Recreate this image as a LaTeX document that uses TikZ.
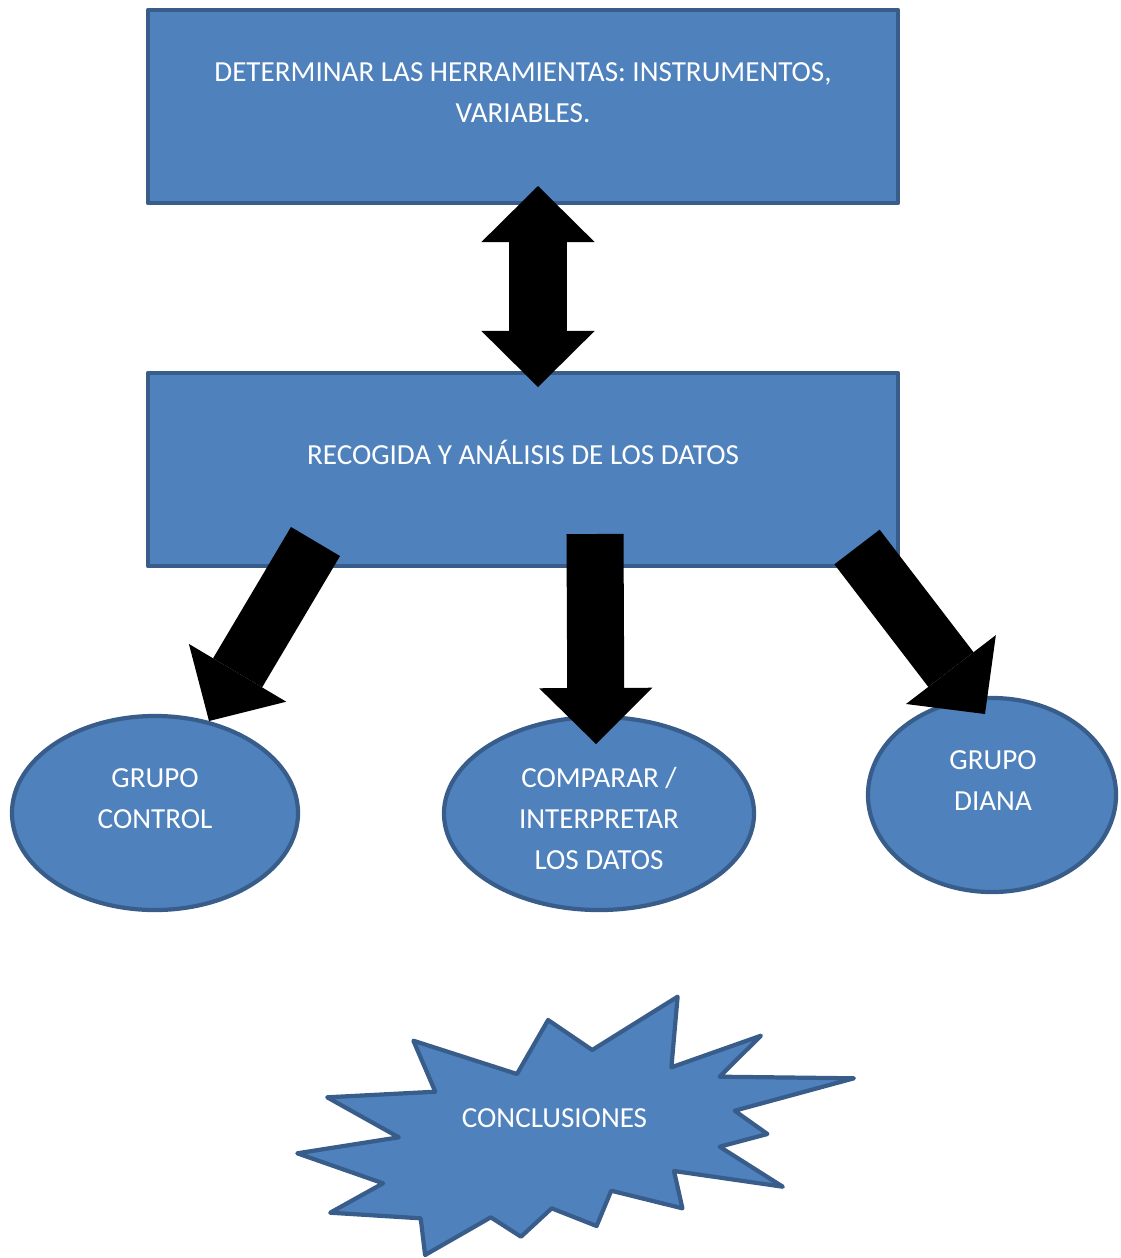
\documentclass[tikz,border=0pt]{standalone}
\usepackage{fontspec}
\setmainfont{Carlito}
\usetikzlibrary{arrows.meta,calc,shapes.geometric}
\definecolor{relleno}{HTML}{4F81BD}
\definecolor{borde}{HTML}{385D8A}
\tikzset{
	caja/.style={draw=borde, line width=3pt, line join=round, fill=relleno, minimum width=18.75cm, minimum height=4.825cm},
	ovalo/.style={ellipse, draw=borde, line width=3pt, fill=relleno},
	texto/.style={text=white, align=center, font=\fontsize{20.7}{29.2}\selectfont},
	flecha/.style={line width=1.425cm, line cap=butt, -{Triangle[length=1.4cm, width=2.83cm, line width=0pt]}},
	doble/.style={line width=1.425cm, line cap=butt, {Triangle[length=1.4cm, width=2.83cm, line width=0pt]}-{Triangle[length=1.4cm, width=2.83cm, line width=0pt]}}
}

\begin{document}
\begin{tikzpicture}[x=0.025cm, y=-0.025cm]
		%%%%% START %%%%%
		\useasboundingbox (0, 0) rectangle (1120, 1258);
		
		\node[caja] (herram) at (523, 106.5) {};
		\node[texto] (herramtxt) at ($(herram.center)+(0, -14)$) {DETERMINAR LAS HERRAMIENTAS: INSTRUMENTOS,\\VARIABLES.};
		
		\node[caja] (datos) at (523, 469.5) {};
		\node[texto] (datostxt) at ($(datos.center)+(0, -17)$) {RECOGIDA Y ANÁLISIS DE LOS DATOS};
		
		\node[ovalo, minimum width=7.15cm, minimum height=4.85cm] (control) at (155, 813) {};
		\node[texto] (controltxt) at (155, 798.5) {GRUPO\\CONTROL};
		
		\node[ovalo, minimum width=7.75cm, minimum height=4.825cm] (comparar) at (599, 813.5) {};
		\node[texto] (comparartxt) at (599, 818.5) {COMPARAR /\\INTERPRETAR\\LOS DATOS};
		
		\node[ovalo, minimum width=6.2cm, minimum height=4.85cm] (diana) at (992, 795) {};
		\node[texto] (dianatxt) at (993, 780.5) {GRUPO\\DIANA};
		
		% estrella
		\draw[draw=borde, line width=3pt, fill=relleno, line join=round]
			(413.4, 1040.7) -- (517.0, 1074) -- (548.1, 1020) -- (592.2, 1050)
			-- (677.6, 996.7) -- (671.4, 1067.3) -- (760.9, 1035.7) -- (719.6, 1076.7)
			-- (853.9, 1078.3) -- (734.6, 1110.7) -- (767.4, 1134) -- (719.6, 1146.7)
			-- (782.8, 1186.7) -- (674.0, 1171) -- (682.4, 1208.3) -- (611.2, 1190.7)
			-- (596.6, 1226) -- (551.7, 1208.3) -- (521.0, 1236.7) -- (490.8, 1217.3)
			-- (425.1, 1255) -- (420.7, 1218.3) -- (330.2, 1212.7) -- (383.1, 1183.3)
			-- (297.3, 1153.3) -- (398.8, 1137.3) -- (327.2, 1097.3) -- (435.3, 1091.7) -- cycle;
		\node[texto] (conclusiones) at (554.5, 1118) {CONCLUSIONES};
		
		% flechas
		\coordinate (d1) at (538, 186);
		\coordinate (d2) at (538, 387);
		\draw[doble] (d1) -- (d2);
		
		\coordinate (c1) at (315.5, 541.5);
		\coordinate (c2) at (209, 721);
		\draw[flecha] (c1) -- (c2);
		
		\coordinate (m1) at (595, 534);
		\coordinate (m2) at (596, 744);
		\draw[flecha] (m1) -- (m2);
		
		\coordinate (r1) at (857, 547);
		\coordinate (r2) at (985, 714);
		\draw[flecha] (r1) -- (r2);
		
		%%%%% END %%%%%
	\end{tikzpicture}
\end{document}
